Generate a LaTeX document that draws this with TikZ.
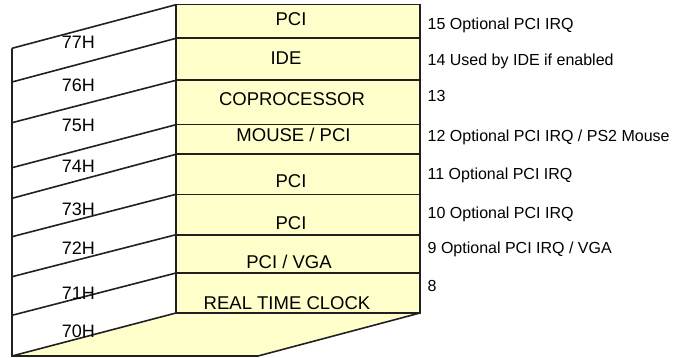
\documentclass[tikz,border=0pt]{standalone}
\usepackage{fontspec}
\setmainfont{Liberation Sans}
\definecolor{boxfill}{HTML}{FFFFCC}
\definecolor{ink}{HTML}{231F20}
\begin{document}
\begin{tikzpicture}[x=1pt,y=-1pt,
  edge/.style={draw=ink,line width=1.6pt},
  rowbox/.style={draw=ink,line width=1.6pt,fill=boxfill,rectangle,minimum width=244pt,anchor=north west,inner sep=0pt,outer sep=0pt},
  boxtext/.style={font=\fontsize{18.5}{20}\selectfont,inner sep=0pt,anchor=base},
  hexlabel/.style={font=\fontsize{18}{20}\selectfont,inner sep=0pt,anchor=base},
  irqlabel/.style={font=\fontsize{16}{18}\selectfont,inner sep=0pt,anchor=base west}]
\useasboundingbox (0,0) rectangle (679,358);
% floor
\coordinate (F0) at (12,356);
\coordinate (F1) at (258,356);
\fill[boxfill] (F0) -- (176,313) -- (420,313) -- (F1) -- cycle;
% rows
\node[rowbox,minimum height=33.6pt] (r15) at (176,4.7) {};
\node[rowbox,minimum height=42pt] (r14) at (176,38.3) {};
\node[rowbox,minimum height=44.4pt] (r13) at (176,80.3) {};
\node[rowbox,minimum height=29.6pt] (r12) at (176,124.7) {};
\node[rowbox,minimum height=40pt] (r11) at (176,154.3) {};
\node[rowbox,minimum height=40.4pt] (r10) at (176,194.3) {};
\node[rowbox,minimum height=38.3pt] (r9) at (176,234.7) {};
\node[rowbox,minimum height=40pt] (r8) at (176,273) {};
% left wall points
\coordinate (L77) at (12,48.3);
\coordinate (L76) at (12,82);
\coordinate (L75) at (12,122.7);
\coordinate (L74) at (12,167.7);
\coordinate (L73) at (12,198.3);
\coordinate (L72) at (12,236.7);
\coordinate (L71) at (12,276.7);
\coordinate (L70) at (12,315.3);
% walls and floor edges
\draw[edge] (L77) -- (F0) -- (F1) -- (r8.south east);
\draw[edge] (F0) -- (r8.south west);
\draw[edge] (L77) -- (r15.north west);
\draw[edge] (L76) -- (r14.north west);
\draw[edge] (L75) -- (r13.north west);
\draw[edge] (L74) -- (r12.north west);
\draw[edge] (L73) -- (r11.north west);
\draw[edge] (L72) -- (r10.north west);
\draw[edge] (L71) -- (r9.north west);
\draw[edge] (L70) -- (r8.north west);
% box texts
\node[boxtext] (t15) at (291,25.8) {PCI};
\node[boxtext] (t14) at (286,64.3) {IDE};
\node[boxtext] (t13) at (292,105.5) {COPROCESSOR};
\node[boxtext] (t12) at (293.5,141.6) {MOUSE / PCI};
\node[boxtext] (t11) at (291,187.5) {PCI};
\node[boxtext] (t10) at (291,229) {PCI};
\node[boxtext] (t9) at (289,268.3) {PCI / VGA};
\node[boxtext] (t8) at (287,309.3) {REAL TIME CLOCK};
% hex labels
\node[hexlabel] (h77) at (78.3,48.3) {77H};
\node[hexlabel] (h76) at (78.3,91.7) {76H};
\node[hexlabel] (h75) at (78.3,131.7) {75H};
\node[hexlabel] (h74) at (78.3,172.7) {74H};
\node[hexlabel] (h73) at (78.3,215.7) {73H};
\node[hexlabel] (h72) at (78.3,254) {72H};
\node[hexlabel] (h71) at (78.3,299) {71H};
\node[hexlabel] (h70) at (78.3,337.7) {70H};
% IRQ labels
\node[irqlabel] (q15) at (427.5,29.4) {15 Optional PCI IRQ};
\node[irqlabel] (q14) at (427.5,66) {14 Used by IDE if enabled};
\node[irqlabel] (q13) at (427.5,101.7) {13};
\node[irqlabel] (q12) at (427.5,141.3) {12 Optional PCI IRQ / PS2 Mouse};
\node[irqlabel] (q11) at (427.5,179) {11 Optional PCI IRQ};
\node[irqlabel] (q10) at (427.5,218.3) {10 Optional PCI IRQ};
\node[irqlabel] (q9) at (427.5,253.3) {9 Optional PCI IRQ / VGA};
\node[irqlabel] (q8) at (427.5,291.7) {8};
\end{tikzpicture}
\end{document}
